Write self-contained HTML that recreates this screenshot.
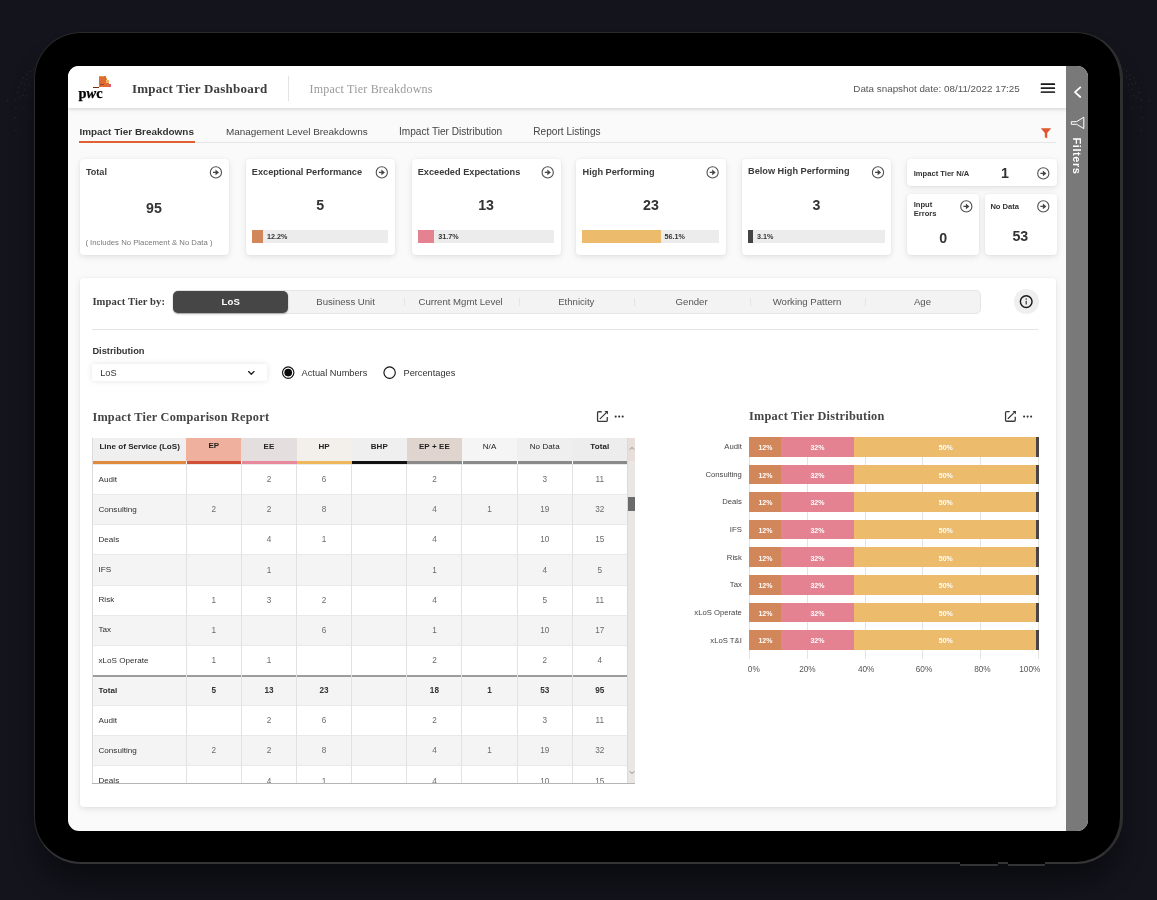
<!DOCTYPE html>
<html lang="en"><head><meta charset="utf-8"><title>Impact Tier Dashboard</title>
<style>
*{box-sizing:border-box;margin:0;padding:0}
html,body{width:1157px;height:900px;overflow:hidden}
body{position:relative;background:#13141c;font-family:"Liberation Sans",Arial,sans-serif;color:#333}
div,svg{position:absolute}
.t{white-space:nowrap}
.card{background:#fff;border-radius:4px;box-shadow:0 2px 6px rgba(0,0,0,.10),0 0 2px rgba(0,0,0,.05)}
.ic{overflow:visible}
</style></head><body>

<svg style="left:0;top:0" width="1157" height="200" viewBox="0 0 1157 200" fill="#fff" fill-opacity=".1"><rect x="32.8" y="68.7" width="1.2" height="1"/><rect x="1123.0" y="68.7" width="1.2" height="1"/><rect x="29.8" y="70.8" width="1.2" height="1"/><rect x="1126.0" y="70.8" width="1.2" height="1"/><rect x="26.3" y="74.4" width="1.2" height="1"/><rect x="1129.5" y="74.4" width="1.2" height="1"/><rect x="30.0" y="76.4" width="1.2" height="1"/><rect x="1125.8" y="76.4" width="1.2" height="1"/><rect x="22.6" y="77.2" width="1.2" height="1"/><rect x="1133.2" y="77.2" width="1.2" height="1"/><rect x="26.3" y="79.1" width="1.2" height="1"/><rect x="1129.5" y="79.1" width="1.2" height="1"/><rect x="20.8" y="82.6" width="1.2" height="1"/><rect x="1135.0" y="82.6" width="1.2" height="1"/><rect x="24.4" y="83.6" width="1.2" height="1"/><rect x="1131.4" y="83.6" width="1.2" height="1"/><rect x="28.1" y="84.4" width="1.2" height="1"/><rect x="1127.7" y="84.4" width="1.2" height="1"/><rect x="17.8" y="87.4" width="1.2" height="1"/><rect x="1138.0" y="87.4" width="1.2" height="1"/><rect x="24.4" y="89.2" width="1.2" height="1"/><rect x="1131.4" y="89.2" width="1.2" height="1"/><rect x="17.0" y="92.0" width="1.2" height="1"/><rect x="1138.8" y="92.0" width="1.2" height="1"/><rect x="22.6" y="94.8" width="1.2" height="1"/><rect x="1133.2" y="94.8" width="1.2" height="1"/><rect x="25.3" y="95.6" width="1.2" height="1"/><rect x="1130.5" y="95.6" width="1.2" height="1"/><rect x="18.9" y="97.4" width="1.2" height="1"/><rect x="1136.9" y="97.4" width="1.2" height="1"/><rect x="15.2" y="99.4" width="1.2" height="1"/><rect x="1140.6" y="99.4" width="1.2" height="1"/><rect x="6.9" y="100.3" width="1.2" height="1"/><rect x="1148.9" y="100.3" width="1.2" height="1"/><rect x="15.2" y="106.7" width="1.2" height="1"/><rect x="1140.6" y="106.7" width="1.2" height="1"/><rect x="23.3" y="107.8" width="1.2" height="1"/><rect x="1132.5" y="107.8" width="1.2" height="1"/><rect x="14.4" y="117.0" width="1.2" height="1"/><rect x="1141.4" y="117.0" width="1.2" height="1"/><rect x="15.2" y="129.8" width="1.2" height="1"/><rect x="1140.6" y="129.8" width="1.2" height="1"/></svg>
<div style="left:34.00px;top:32.00px;width:1089.00px;height:832.00px;background:#000;border-style:solid;border-width:1px 3px 2px 1px;border-color:#2a2a2c #2e2e30 #343436 #29292b;border-radius:47px;box-shadow:0 22px 28px -6px rgba(0,0,0,.45);"></div>
<div style="left:960.00px;top:860.00px;width:37.80px;height:5.50px;background:#000;border-bottom:2px solid #343436;border-radius:0 0 1px 1px;"></div>
<div style="left:1007.80px;top:860.00px;width:37.70px;height:5.50px;background:#000;border-bottom:2px solid #343436;border-radius:0 0 1px 1px;"></div>
<div style="left:68px;top:66px;width:1020px;height:765.3px;background:#fafafa;border-radius:11px;overflow:hidden">
<div style="left:0.00px;top:0.00px;width:998.50px;height:42.00px;background:#fff;box-shadow:0 1px 4px rgba(0,0,0,.18);"></div>
<div style="left:998.40px;top:0.00px;width:22.00px;height:766.00px;background:#797979;"></div>
<div class="t" style="top:17.00px;font-size:14.4px;line-height:20.2px;color:#000;font-weight:700;font-family:'Liberation Serif',Georgia,serif;letter-spacing:0.1px;left:10.50px;-webkit-text-stroke:.25px #000;">p<i>w</i>c</div>
<div style="left:31.00px;top:10.10px;width:6.60px;height:10.60px;background:#de6a35;"></div>
<div style="left:31.40px;top:10.10px;width:4.60px;height:1.40px;background:#ec9440;"></div>
<div style="left:37.60px;top:12.40px;width:1.00px;height:5.00px;background:#e88a3c;"></div>
<div style="left:37.60px;top:17.20px;width:3.40px;height:3.50px;background:#de6a35;"></div>
<div style="left:38.30px;top:13.60px;width:2.70px;height:3.60px;background:#f2b75c;"></div>
<div style="left:40.90px;top:17.90px;width:2.10px;height:2.80px;background:#e0557a;"></div>
<div style="left:25.10px;top:21.00px;width:6.00px;height:1.30px;background:#7a2a12;"></div>
<div style="left:32.00px;top:17.60px;width:3.80px;height:1.80px;background:#9a3c18;opacity:.8"></div>
<div class="t" style="top:14.40px;font-size:13px;line-height:18.2px;color:#3d3d3d;font-weight:700;font-family:'Liberation Serif',Georgia,serif;letter-spacing:0.22px;left:64.00px;">Impact Tier Dashboard</div>
<div style="left:220.40px;top:10.00px;width:1.00px;height:25.00px;background:#e3e3e3;"></div>
<div class="t" style="top:15.10px;font-size:12px;line-height:16.8px;color:#9a9a9a;font-family:'Liberation Serif',Georgia,serif;letter-spacing:0.2px;left:241.60px;">Impact Tier Breakdowns</div>
<div class="t" style="top:15.70px;font-size:9.84px;line-height:13.8px;color:#555;left:785.30px;">Data snapshot date: 08/11/2022 17:25</div>
<div class="t" style="left:1008.7px;top:89.80000000000001px;width:0;height:0"><div class="t" style="left:-30px;top:-8px;width:60px;height:16px;line-height:16px;text-align:center;transform:rotate(90deg);font-size:11px;font-weight:700;color:#fff;letter-spacing:.55px">Filters</div></div>
<div style="left:11.50px;top:76.00px;width:976.50px;height:1.00px;background:#e6e6e6;"></div>
<div class="t" style="top:59.45px;font-size:9.93px;line-height:13.9px;color:#333;font-weight:700;left:11.40px;">Impact Tier Breakdowns</div>
<div style="left:11.40px;top:75.00px;width:115.20px;height:2.00px;background:#e0602f;"></div>
<div class="t" style="top:59.45px;font-size:9.94px;line-height:13.9px;color:#444;left:158.00px;">Management Level Breakdowns</div>
<div class="t" style="top:59.35px;font-size:10.1px;line-height:14.1px;color:#444;left:331.00px;">Impact Tier Distribution</div>
<div class="t" style="top:59.35px;font-size:10.1px;line-height:14.1px;color:#444;left:465.30px;">Report Listings</div>
<div class="card" style="left:11.70px;top:93.40px;width:149.30px;height:95.20px;"></div>
<div class="t" style="top:100.35px;font-size:9.1px;line-height:12.7px;color:#3a3a3a;font-weight:700;left:17.90px;">Total</div>

<div class="t" style="top:133.15px;font-size:14.2px;line-height:19.9px;color:#333;font-weight:700;left:55.90px;width:60px;text-align:center;">95</div>
<div class="t" style="top:172.30px;font-size:7.75px;line-height:10.8px;color:#7a7a7a;left:17.40px;">( Includes No Placement &amp; No Data )</div>
<div class="card" style="left:177.60px;top:93.40px;width:149.30px;height:95.20px;"></div>
<div class="t" style="top:100.25px;font-size:9.2px;line-height:12.9px;color:#3a3a3a;font-weight:700;left:183.80px;">Exceptional Performance</div>

<div class="t" style="top:130.05px;font-size:14.2px;line-height:19.9px;color:#333;font-weight:700;left:222.20px;width:60px;text-align:center;">5</div>
<div style="left:183.60px;top:164.00px;width:136.80px;height:12.50px;background:#ececec;"></div>
<div style="left:183.60px;top:164.00px;width:11.70px;height:12.50px;background:#d2875a;"></div>
<div class="t" style="top:166.25px;font-size:7.2px;line-height:10.1px;color:#333;font-weight:700;left:199.10px;">12.2%</div>
<div class="card" style="left:343.50px;top:93.40px;width:149.30px;height:95.20px;"></div>
<div class="t" style="top:100.25px;font-size:9.2px;line-height:12.9px;color:#3a3a3a;font-weight:700;left:349.70px;">Exceeded Expectations</div>

<div class="t" style="top:130.05px;font-size:14.2px;line-height:19.9px;color:#333;font-weight:700;left:388.10px;width:60px;text-align:center;">13</div>
<div style="left:349.50px;top:164.00px;width:136.80px;height:12.50px;background:#ececec;"></div>
<div style="left:349.50px;top:164.00px;width:16.90px;height:12.50px;background:#e48291;"></div>
<div class="t" style="top:166.25px;font-size:7.2px;line-height:10.1px;color:#333;font-weight:700;left:370.20px;">31.7%</div>
<div class="card" style="left:508.40px;top:93.40px;width:149.30px;height:95.20px;"></div>
<div class="t" style="top:100.25px;font-size:9.2px;line-height:12.9px;color:#3a3a3a;font-weight:700;left:514.60px;">High Performing</div>

<div class="t" style="top:130.05px;font-size:14.2px;line-height:19.9px;color:#333;font-weight:700;left:553.00px;width:60px;text-align:center;">23</div>
<div style="left:514.40px;top:164.00px;width:136.80px;height:12.50px;background:#ececec;"></div>
<div style="left:514.40px;top:164.00px;width:78.30px;height:12.50px;background:#ecbb6c;"></div>
<div class="t" style="top:166.25px;font-size:7.2px;line-height:10.1px;color:#333;font-weight:700;left:596.50px;">56.1%</div>
<div class="card" style="left:673.80px;top:93.40px;width:149.30px;height:95.20px;"></div>
<div class="t" style="top:98.95px;font-size:9.2px;line-height:12.9px;color:#3a3a3a;font-weight:700;left:680.00px;">Below High Performing</div>

<div class="t" style="top:130.05px;font-size:14.2px;line-height:19.9px;color:#333;font-weight:700;left:718.40px;width:60px;text-align:center;">3</div>
<div style="left:679.80px;top:164.00px;width:136.80px;height:12.50px;background:#ececec;"></div>
<div style="left:679.80px;top:164.00px;width:5.30px;height:12.50px;background:#444;"></div>
<div class="t" style="top:166.25px;font-size:7.2px;line-height:10.1px;color:#333;font-weight:700;left:688.90px;">3.1%</div>
<div class="card" style="left:839.20px;top:93.40px;width:149.60px;height:26.20px;"></div>
<div class="t" style="top:102.80px;font-size:7.6px;line-height:10.6px;color:#333;font-weight:700;left:845.70px;">Impact Tier N/A</div>
<div class="t" style="top:98.25px;font-size:14.2px;line-height:19.9px;color:#333;font-weight:700;left:917.00px;width:40px;text-align:center;">1</div>

<div class="card" style="left:839.20px;top:127.50px;width:72.00px;height:61.10px;"></div>
<div class="t" style="top:133.60px;font-size:7.6px;line-height:10.6px;color:#333;font-weight:700;left:845.70px;">Input</div>
<div class="t" style="top:142.50px;font-size:7.6px;line-height:10.6px;color:#333;font-weight:700;left:845.70px;">Errors</div>

<div class="t" style="top:162.85px;font-size:14.2px;line-height:19.9px;color:#333;font-weight:700;left:855.30px;width:40px;text-align:center;">0</div>
<div class="card" style="left:916.50px;top:127.50px;width:72.30px;height:61.10px;"></div>
<div class="t" style="top:135.70px;font-size:7.6px;line-height:10.6px;color:#333;font-weight:700;left:922.40px;">No Data</div>

<div class="t" style="top:161.45px;font-size:14.2px;line-height:19.9px;color:#333;font-weight:700;left:932.30px;width:40px;text-align:center;">53</div>
<div class="card" style="left:11.70px;top:212.00px;width:976.50px;height:528.70px;"></div>
<div class="t" style="top:228.80px;font-size:10.6px;line-height:14.8px;color:#3d3d3d;font-weight:700;font-family:'Liberation Serif',Georgia,serif;letter-spacing:0.1px;left:24.40px;">Impact Tier by:</div>
<div style="left:105.30px;top:223.70px;width:807.40px;height:24.00px;background:#f3f3f3;border:1px solid #e6e6e6;border-radius:5px;"></div>
<div style="left:105.30px;top:225.00px;width:115.00px;height:21.60px;background:#464646;border-radius:5px;box-shadow:0 1px 2px rgba(0,0,0,.3);"></div>
<div class="t" style="top:229.30px;font-size:9.6px;line-height:13.4px;color:#fff;font-weight:700;letter-spacing:0.2px;left:112.80px;width:100px;text-align:center;">LoS</div>
<div class="t" style="top:229.10px;font-size:9.6px;line-height:13.4px;color:#555;left:217.60px;width:120px;text-align:center;">Business Unit</div>
<div class="t" style="top:229.10px;font-size:9.6px;line-height:13.4px;color:#555;left:332.60px;width:120px;text-align:center;">Current Mgmt Level</div>
<div class="t" style="top:229.10px;font-size:9.6px;line-height:13.4px;color:#555;left:448.30px;width:120px;text-align:center;">Ethnicity</div>
<div class="t" style="top:229.10px;font-size:9.6px;line-height:13.4px;color:#555;left:563.60px;width:120px;text-align:center;">Gender</div>
<div class="t" style="top:229.10px;font-size:9.6px;line-height:13.4px;color:#555;left:679.00px;width:120px;text-align:center;">Working Pattern</div>
<div class="t" style="top:229.10px;font-size:9.6px;line-height:13.4px;color:#555;left:794.50px;width:120px;text-align:center;">Age</div>
<div style="left:335.50px;top:232.00px;width:1.00px;height:8.00px;background:#e4e4e4;"></div>
<div style="left:450.60px;top:232.00px;width:1.00px;height:8.00px;background:#e4e4e4;"></div>
<div style="left:566.20px;top:232.00px;width:1.00px;height:8.00px;background:#e4e4e4;"></div>
<div style="left:681.60px;top:232.00px;width:1.00px;height:8.00px;background:#e4e4e4;"></div>
<div style="left:797.20px;top:232.00px;width:1.00px;height:8.00px;background:#e4e4e4;"></div>
<div style="left:946.00px;top:223.30px;width:24.50px;height:24.50px;background:#efefef;border-radius:50%;"></div>
<div style="left:24.40px;top:263.00px;width:946.10px;height:1.00px;background:#e4e4e4;"></div>
<div class="t" style="top:279.10px;font-size:9.3px;line-height:13.0px;color:#333;font-weight:700;left:24.40px;">Distribution</div>
<div style="left:24.40px;top:298.00px;width:174.20px;height:17.00px;background:#fff;border-radius:2px;box-shadow:0 0 6px rgba(0,0,0,.11);"></div>
<div class="t" style="top:301.05px;font-size:9.2px;line-height:12.9px;color:#333;left:32.20px;">LoS</div>
<div class="t" style="top:300.55px;font-size:9.24px;line-height:12.9px;color:#333;left:233.60px;">Actual Numbers</div>
<div class="t" style="top:300.55px;font-size:9.24px;line-height:12.9px;color:#333;left:335.50px;">Percentages</div>
<div class="t" style="top:342.90px;font-size:12.3px;line-height:17.2px;color:#454545;font-weight:700;font-family:'Liberation Serif',Georgia,serif;letter-spacing:0.22px;left:24.40px;">Impact Tier Comparison Report</div>


<div style="left:24.200000000000003px;top:371.8px;width:543px;height:346.4px;overflow:hidden;background:#fff;border-bottom:1px solid #b5b5b5">
<div style="left:0.80px;top:0.00px;width:93.30px;height:23.60px;background:#efefef;"></div>
<div style="left:0.80px;top:23.50px;width:93.30px;height:2.40px;background:#df8a3c;"></div>
<div class="t" style="top:3.35px;font-size:8.1px;line-height:11.3px;color:#222;font-weight:700;left:-4.20px;width:103.3px;text-align:center;">Line of Service (LoS)</div>
<div style="left:94.10px;top:0.00px;width:55.14px;height:23.60px;background:#efb19d;"></div>
<div style="left:94.70px;top:23.50px;width:54.54px;height:2.40px;background:#cf5034;"></div>
<div class="t" style="top:2.60px;font-size:8px;line-height:11.2px;color:#222;font-weight:700;letter-spacing:0.1px;left:89.10px;width:65.14000000000001px;text-align:center;">EP</div>
<div style="left:149.24px;top:0.00px;width:55.14px;height:23.60px;background:#e4dfde;"></div>
<div style="left:149.84px;top:23.50px;width:54.54px;height:2.40px;background:#e8899b;"></div>
<div class="t" style="top:3.40px;font-size:8px;line-height:11.2px;color:#222;font-weight:700;letter-spacing:0.1px;left:144.24px;width:65.13999999999999px;text-align:center;">EE</div>
<div style="left:204.38px;top:0.00px;width:55.14px;height:23.60px;background:#f3efeb;"></div>
<div style="left:204.98px;top:23.50px;width:54.54px;height:2.40px;background:#efb85c;"></div>
<div class="t" style="top:3.40px;font-size:8px;line-height:11.2px;color:#222;font-weight:700;letter-spacing:0.1px;left:199.38px;width:65.13999999999999px;text-align:center;">HP</div>
<div style="left:259.52px;top:0.00px;width:55.14px;height:23.60px;background:#efefef;"></div>
<div style="left:260.12px;top:23.50px;width:54.54px;height:2.40px;background:#111;"></div>
<div class="t" style="top:3.40px;font-size:8px;line-height:11.2px;color:#222;font-weight:700;letter-spacing:0.1px;left:254.52px;width:65.13999999999999px;text-align:center;">BHP</div>
<div style="left:314.66px;top:0.00px;width:55.14px;height:23.60px;background:#dfd5ce;"></div>
<div style="left:315.26px;top:23.50px;width:54.54px;height:2.40px;background:#8a8a8a;"></div>
<div class="t" style="top:3.40px;font-size:8px;line-height:11.2px;color:#222;font-weight:700;letter-spacing:0.1px;left:309.66px;width:65.13999999999999px;text-align:center;">EP + EE</div>
<div style="left:369.80px;top:0.00px;width:55.14px;height:23.60px;background:#f5f5f5;"></div>
<div style="left:370.40px;top:23.50px;width:54.54px;height:2.40px;background:#8a8a8a;"></div>
<div class="t" style="top:3.40px;font-size:8px;line-height:11.2px;color:#222;letter-spacing:0.1px;left:364.80px;width:65.1400000000001px;text-align:center;">N/A</div>
<div style="left:424.94px;top:0.00px;width:55.14px;height:23.60px;background:#efefef;"></div>
<div style="left:425.54px;top:23.50px;width:54.54px;height:2.40px;background:#8a8a8a;"></div>
<div class="t" style="top:3.40px;font-size:8px;line-height:11.2px;color:#222;letter-spacing:0.1px;left:419.94px;width:65.13999999999999px;text-align:center;">No Data</div>
<div style="left:480.08px;top:0.00px;width:55.14px;height:23.60px;background:#ededed;"></div>
<div style="left:480.68px;top:23.50px;width:54.54px;height:2.40px;background:#8a8a8a;"></div>
<div class="t" style="top:3.40px;font-size:8px;line-height:11.2px;color:#222;font-weight:700;letter-spacing:0.1px;left:475.08px;width:65.13999999999999px;text-align:center;">Total</div>
<div style="left:0.80px;top:26.20px;width:534.30px;height:30.13px;background:#fff;border-top:1px solid #e9e9e9;"></div>
<div class="t" style="top:36.02px;font-size:8.1px;line-height:11.3px;color:#2e2e2e;left:6.30px;">Audit</div>
<div class="t" style="top:36.41px;font-size:8.2px;line-height:11.5px;color:#6a6a6a;left:156.81px;width:40px;text-align:center;">2</div>
<div class="t" style="top:36.41px;font-size:8.2px;line-height:11.5px;color:#6a6a6a;left:211.95px;width:40px;text-align:center;">6</div>
<div class="t" style="top:36.41px;font-size:8.2px;line-height:11.5px;color:#6a6a6a;left:322.23px;width:40px;text-align:center;">2</div>
<div class="t" style="top:36.41px;font-size:8.2px;line-height:11.5px;color:#6a6a6a;left:432.51px;width:40px;text-align:center;">3</div>
<div class="t" style="top:36.41px;font-size:8.2px;line-height:11.5px;color:#6a6a6a;left:487.65px;width:40px;text-align:center;">11</div>
<div style="left:0.80px;top:56.33px;width:534.30px;height:30.13px;background:#f4f4f4;border-top:1px solid #e9e9e9;"></div>
<div class="t" style="top:66.14px;font-size:8.1px;line-height:11.3px;color:#2e2e2e;left:6.30px;">Consulting</div>
<div class="t" style="top:66.54px;font-size:8.2px;line-height:11.5px;color:#6a6a6a;left:101.67px;width:40px;text-align:center;">2</div>
<div class="t" style="top:66.54px;font-size:8.2px;line-height:11.5px;color:#6a6a6a;left:156.81px;width:40px;text-align:center;">2</div>
<div class="t" style="top:66.54px;font-size:8.2px;line-height:11.5px;color:#6a6a6a;left:211.95px;width:40px;text-align:center;">8</div>
<div class="t" style="top:66.54px;font-size:8.2px;line-height:11.5px;color:#6a6a6a;left:322.23px;width:40px;text-align:center;">4</div>
<div class="t" style="top:66.54px;font-size:8.2px;line-height:11.5px;color:#6a6a6a;left:377.37px;width:40px;text-align:center;">1</div>
<div class="t" style="top:66.54px;font-size:8.2px;line-height:11.5px;color:#6a6a6a;left:432.51px;width:40px;text-align:center;">19</div>
<div class="t" style="top:66.54px;font-size:8.2px;line-height:11.5px;color:#6a6a6a;left:487.65px;width:40px;text-align:center;">32</div>
<div style="left:0.80px;top:86.46px;width:534.30px;height:30.13px;background:#fff;border-top:1px solid #e9e9e9;"></div>
<div class="t" style="top:96.27px;font-size:8.1px;line-height:11.3px;color:#2e2e2e;left:6.30px;">Deals</div>
<div class="t" style="top:96.67px;font-size:8.2px;line-height:11.5px;color:#6a6a6a;left:156.81px;width:40px;text-align:center;">4</div>
<div class="t" style="top:96.67px;font-size:8.2px;line-height:11.5px;color:#6a6a6a;left:211.95px;width:40px;text-align:center;">1</div>
<div class="t" style="top:96.67px;font-size:8.2px;line-height:11.5px;color:#6a6a6a;left:322.23px;width:40px;text-align:center;">4</div>
<div class="t" style="top:96.67px;font-size:8.2px;line-height:11.5px;color:#6a6a6a;left:432.51px;width:40px;text-align:center;">10</div>
<div class="t" style="top:96.67px;font-size:8.2px;line-height:11.5px;color:#6a6a6a;left:487.65px;width:40px;text-align:center;">15</div>
<div style="left:0.80px;top:116.59px;width:534.30px;height:30.13px;background:#f4f4f4;border-top:1px solid #e9e9e9;"></div>
<div class="t" style="top:126.40px;font-size:8.1px;line-height:11.3px;color:#2e2e2e;left:6.30px;">IFS</div>
<div class="t" style="top:126.80px;font-size:8.2px;line-height:11.5px;color:#6a6a6a;left:156.81px;width:40px;text-align:center;">1</div>
<div class="t" style="top:126.80px;font-size:8.2px;line-height:11.5px;color:#6a6a6a;left:322.23px;width:40px;text-align:center;">1</div>
<div class="t" style="top:126.80px;font-size:8.2px;line-height:11.5px;color:#6a6a6a;left:432.51px;width:40px;text-align:center;">4</div>
<div class="t" style="top:126.80px;font-size:8.2px;line-height:11.5px;color:#6a6a6a;left:487.65px;width:40px;text-align:center;">5</div>
<div style="left:0.80px;top:146.72px;width:534.30px;height:30.13px;background:#fff;border-top:1px solid #e9e9e9;"></div>
<div class="t" style="top:156.53px;font-size:8.1px;line-height:11.3px;color:#2e2e2e;left:6.30px;">Risk</div>
<div class="t" style="top:156.94px;font-size:8.2px;line-height:11.5px;color:#6a6a6a;left:101.67px;width:40px;text-align:center;">1</div>
<div class="t" style="top:156.94px;font-size:8.2px;line-height:11.5px;color:#6a6a6a;left:156.81px;width:40px;text-align:center;">3</div>
<div class="t" style="top:156.94px;font-size:8.2px;line-height:11.5px;color:#6a6a6a;left:211.95px;width:40px;text-align:center;">2</div>
<div class="t" style="top:156.94px;font-size:8.2px;line-height:11.5px;color:#6a6a6a;left:322.23px;width:40px;text-align:center;">4</div>
<div class="t" style="top:156.94px;font-size:8.2px;line-height:11.5px;color:#6a6a6a;left:432.51px;width:40px;text-align:center;">5</div>
<div class="t" style="top:156.94px;font-size:8.2px;line-height:11.5px;color:#6a6a6a;left:487.65px;width:40px;text-align:center;">11</div>
<div style="left:0.80px;top:176.85px;width:534.30px;height:30.13px;background:#f4f4f4;border-top:1px solid #e9e9e9;"></div>
<div class="t" style="top:186.66px;font-size:8.1px;line-height:11.3px;color:#2e2e2e;left:6.30px;">Tax</div>
<div class="t" style="top:187.06px;font-size:8.2px;line-height:11.5px;color:#6a6a6a;left:101.67px;width:40px;text-align:center;">1</div>
<div class="t" style="top:187.06px;font-size:8.2px;line-height:11.5px;color:#6a6a6a;left:211.95px;width:40px;text-align:center;">6</div>
<div class="t" style="top:187.06px;font-size:8.2px;line-height:11.5px;color:#6a6a6a;left:322.23px;width:40px;text-align:center;">1</div>
<div class="t" style="top:187.06px;font-size:8.2px;line-height:11.5px;color:#6a6a6a;left:432.51px;width:40px;text-align:center;">10</div>
<div class="t" style="top:187.06px;font-size:8.2px;line-height:11.5px;color:#6a6a6a;left:487.65px;width:40px;text-align:center;">17</div>
<div style="left:0.80px;top:206.98px;width:534.30px;height:30.13px;background:#fff;border-top:1px solid #e9e9e9;"></div>
<div class="t" style="top:216.79px;font-size:8.1px;line-height:11.3px;color:#2e2e2e;left:6.30px;">xLoS Operate</div>
<div class="t" style="top:217.19px;font-size:8.2px;line-height:11.5px;color:#6a6a6a;left:101.67px;width:40px;text-align:center;">1</div>
<div class="t" style="top:217.19px;font-size:8.2px;line-height:11.5px;color:#6a6a6a;left:156.81px;width:40px;text-align:center;">1</div>
<div class="t" style="top:217.19px;font-size:8.2px;line-height:11.5px;color:#6a6a6a;left:322.23px;width:40px;text-align:center;">2</div>
<div class="t" style="top:217.19px;font-size:8.2px;line-height:11.5px;color:#6a6a6a;left:432.51px;width:40px;text-align:center;">2</div>
<div class="t" style="top:217.19px;font-size:8.2px;line-height:11.5px;color:#6a6a6a;left:487.65px;width:40px;text-align:center;">4</div>
<div style="left:0.80px;top:237.11px;width:534.30px;height:30.13px;background:#f4f4f4;border-top:2px solid #9c9c9c;"></div>
<div class="t" style="top:246.92px;font-size:8.1px;line-height:11.3px;color:#2e2e2e;font-weight:700;left:6.30px;">Total</div>
<div class="t" style="top:247.32px;font-size:8.2px;line-height:11.5px;color:#333;font-weight:700;left:101.67px;width:40px;text-align:center;">5</div>
<div class="t" style="top:247.32px;font-size:8.2px;line-height:11.5px;color:#333;font-weight:700;left:156.81px;width:40px;text-align:center;">13</div>
<div class="t" style="top:247.32px;font-size:8.2px;line-height:11.5px;color:#333;font-weight:700;left:211.95px;width:40px;text-align:center;">23</div>
<div class="t" style="top:247.32px;font-size:8.2px;line-height:11.5px;color:#333;font-weight:700;left:322.23px;width:40px;text-align:center;">18</div>
<div class="t" style="top:247.32px;font-size:8.2px;line-height:11.5px;color:#333;font-weight:700;left:377.37px;width:40px;text-align:center;">1</div>
<div class="t" style="top:247.32px;font-size:8.2px;line-height:11.5px;color:#333;font-weight:700;left:432.51px;width:40px;text-align:center;">53</div>
<div class="t" style="top:247.32px;font-size:8.2px;line-height:11.5px;color:#333;font-weight:700;left:487.65px;width:40px;text-align:center;">95</div>
<div style="left:0.80px;top:267.24px;width:534.30px;height:30.13px;background:#fff;border-top:1px solid #e9e9e9;"></div>
<div class="t" style="top:277.06px;font-size:8.1px;line-height:11.3px;color:#2e2e2e;left:6.30px;">Audit</div>
<div class="t" style="top:277.46px;font-size:8.2px;line-height:11.5px;color:#6a6a6a;left:156.81px;width:40px;text-align:center;">2</div>
<div class="t" style="top:277.46px;font-size:8.2px;line-height:11.5px;color:#6a6a6a;left:211.95px;width:40px;text-align:center;">6</div>
<div class="t" style="top:277.46px;font-size:8.2px;line-height:11.5px;color:#6a6a6a;left:322.23px;width:40px;text-align:center;">2</div>
<div class="t" style="top:277.46px;font-size:8.2px;line-height:11.5px;color:#6a6a6a;left:432.51px;width:40px;text-align:center;">3</div>
<div class="t" style="top:277.46px;font-size:8.2px;line-height:11.5px;color:#6a6a6a;left:487.65px;width:40px;text-align:center;">11</div>
<div style="left:0.80px;top:297.37px;width:534.30px;height:30.13px;background:#f4f4f4;border-top:1px solid #e9e9e9;"></div>
<div class="t" style="top:307.19px;font-size:8.1px;line-height:11.3px;color:#2e2e2e;left:6.30px;">Consulting</div>
<div class="t" style="top:307.59px;font-size:8.2px;line-height:11.5px;color:#6a6a6a;left:101.67px;width:40px;text-align:center;">2</div>
<div class="t" style="top:307.59px;font-size:8.2px;line-height:11.5px;color:#6a6a6a;left:156.81px;width:40px;text-align:center;">2</div>
<div class="t" style="top:307.59px;font-size:8.2px;line-height:11.5px;color:#6a6a6a;left:211.95px;width:40px;text-align:center;">8</div>
<div class="t" style="top:307.59px;font-size:8.2px;line-height:11.5px;color:#6a6a6a;left:322.23px;width:40px;text-align:center;">4</div>
<div class="t" style="top:307.59px;font-size:8.2px;line-height:11.5px;color:#6a6a6a;left:377.37px;width:40px;text-align:center;">1</div>
<div class="t" style="top:307.59px;font-size:8.2px;line-height:11.5px;color:#6a6a6a;left:432.51px;width:40px;text-align:center;">19</div>
<div class="t" style="top:307.59px;font-size:8.2px;line-height:11.5px;color:#6a6a6a;left:487.65px;width:40px;text-align:center;">32</div>
<div style="left:0.80px;top:327.50px;width:534.30px;height:30.13px;background:#fff;border-top:1px solid #e9e9e9;"></div>
<div class="t" style="top:337.32px;font-size:8.1px;line-height:11.3px;color:#2e2e2e;left:6.30px;">Deals</div>
<div class="t" style="top:337.72px;font-size:8.2px;line-height:11.5px;color:#6a6a6a;left:156.81px;width:40px;text-align:center;">4</div>
<div class="t" style="top:337.72px;font-size:8.2px;line-height:11.5px;color:#6a6a6a;left:211.95px;width:40px;text-align:center;">1</div>
<div class="t" style="top:337.72px;font-size:8.2px;line-height:11.5px;color:#6a6a6a;left:322.23px;width:40px;text-align:center;">4</div>
<div class="t" style="top:337.72px;font-size:8.2px;line-height:11.5px;color:#6a6a6a;left:432.51px;width:40px;text-align:center;">10</div>
<div class="t" style="top:337.72px;font-size:8.2px;line-height:11.5px;color:#6a6a6a;left:487.65px;width:40px;text-align:center;">15</div>
<div style="left:93.60px;top:26.20px;width:1.00px;height:330.00px;background:#e4e2e0;"></div>
<div style="left:148.74px;top:26.20px;width:1.00px;height:330.00px;background:#e4e2e0;"></div>
<div style="left:203.88px;top:26.20px;width:1.00px;height:330.00px;background:#e4e2e0;"></div>
<div style="left:259.02px;top:26.20px;width:1.00px;height:330.00px;background:#e4e2e0;"></div>
<div style="left:314.16px;top:26.20px;width:1.00px;height:330.00px;background:#e4e2e0;"></div>
<div style="left:369.30px;top:26.20px;width:1.00px;height:330.00px;background:#e4e2e0;"></div>
<div style="left:424.44px;top:26.20px;width:1.00px;height:330.00px;background:#e4e2e0;"></div>
<div style="left:479.58px;top:26.20px;width:1.00px;height:330.00px;background:#e4e2e0;"></div>
<div style="left:0.00px;top:0.00px;width:1.00px;height:347.00px;background:#dcdcdc;"></div>
<div style="left:535.10px;top:0.00px;width:7.90px;height:347.00px;background:#e9e6e4;border-left:1px solid #dcd9d7;"></div>
<div style="left:536.10px;top:0.00px;width:6.90px;height:23.50px;background:#e8dfda;"></div>
<div style="left:536.20px;top:58.80px;width:6.80px;height:14.30px;background:#6b6b6b;"></div>
<svg class="ic" style="left:536.4px;top:8px" width="6" height="5" viewBox="0 0 6 5"><path d="M0.8 3.6L3 1.4L5.2 3.6" fill="none" stroke="#8a8a8a" stroke-width="1"/></svg>
<svg class="ic" style="left:536.4px;top:332px" width="6" height="5" viewBox="0 0 6 5"><path d="M0.8 1.4L3 3.6L5.2 1.4" fill="none" stroke="#8a8a8a" stroke-width="1"/></svg>
</div>
<div class="t" style="top:342.40px;font-size:12.3px;line-height:17.2px;color:#454545;font-weight:700;font-family:'Liberation Serif',Georgia,serif;letter-spacing:0.24px;left:681.00px;">Impact Tier Distribution</div>


<div style="left:680.80px;top:371.00px;width:1.00px;height:221.50px;background:#e3e3e3;"></div>
<div style="left:738.66px;top:371.00px;width:1.00px;height:221.50px;background:#e3e3e3;"></div>
<div style="left:796.52px;top:371.00px;width:1.00px;height:221.50px;background:#e3e3e3;"></div>
<div style="left:854.38px;top:371.00px;width:1.00px;height:221.50px;background:#e3e3e3;"></div>
<div style="left:912.24px;top:371.00px;width:1.00px;height:221.50px;background:#e3e3e3;"></div>
<div style="left:970.10px;top:371.00px;width:1.00px;height:221.50px;background:#e3e3e3;"></div>
<div style="left:681.30px;top:371.00px;width:31.90px;height:19.60px;background:#d2875a;"></div>
<div style="left:713.20px;top:371.00px;width:73.20px;height:19.60px;background:#e48291;"></div>
<div style="left:786.40px;top:371.00px;width:184.00px;height:19.60px;background:#ecbb6c;"></div>
<div style="left:967.60px;top:371.00px;width:3.00px;height:19.60px;background:#4a4444;"></div>
<div class="t" style="top:376.20px;font-size:7.7px;line-height:10.8px;color:#444;left:573.80px;width:100px;text-align:right;">Audit</div>
<div class="t" style="top:377.10px;font-size:7px;line-height:9.8px;color:#fff;font-weight:700;left:682.40px;width:30px;text-align:center;">12%</div>
<div class="t" style="top:377.10px;font-size:7px;line-height:9.8px;color:#fff;font-weight:700;left:734.40px;width:30px;text-align:center;">32%</div>
<div class="t" style="top:377.10px;font-size:7px;line-height:9.8px;color:#fff;font-weight:700;left:862.80px;width:30px;text-align:center;">50%</div>
<div style="left:681.30px;top:398.62px;width:31.90px;height:19.60px;background:#d2875a;"></div>
<div style="left:713.20px;top:398.62px;width:73.20px;height:19.60px;background:#e48291;"></div>
<div style="left:786.40px;top:398.62px;width:184.00px;height:19.60px;background:#ecbb6c;"></div>
<div style="left:967.60px;top:398.62px;width:3.00px;height:19.60px;background:#4a4444;"></div>
<div class="t" style="top:403.82px;font-size:7.7px;line-height:10.8px;color:#444;left:573.80px;width:100px;text-align:right;">Consulting</div>
<div class="t" style="top:404.72px;font-size:7px;line-height:9.8px;color:#fff;font-weight:700;left:682.40px;width:30px;text-align:center;">12%</div>
<div class="t" style="top:404.72px;font-size:7px;line-height:9.8px;color:#fff;font-weight:700;left:734.40px;width:30px;text-align:center;">32%</div>
<div class="t" style="top:404.72px;font-size:7px;line-height:9.8px;color:#fff;font-weight:700;left:862.80px;width:30px;text-align:center;">50%</div>
<div style="left:681.30px;top:426.24px;width:31.90px;height:19.60px;background:#d2875a;"></div>
<div style="left:713.20px;top:426.24px;width:73.20px;height:19.60px;background:#e48291;"></div>
<div style="left:786.40px;top:426.24px;width:184.00px;height:19.60px;background:#ecbb6c;"></div>
<div style="left:967.60px;top:426.24px;width:3.00px;height:19.60px;background:#4a4444;"></div>
<div class="t" style="top:431.44px;font-size:7.7px;line-height:10.8px;color:#444;left:573.80px;width:100px;text-align:right;">Deals</div>
<div class="t" style="top:432.34px;font-size:7px;line-height:9.8px;color:#fff;font-weight:700;left:682.40px;width:30px;text-align:center;">12%</div>
<div class="t" style="top:432.34px;font-size:7px;line-height:9.8px;color:#fff;font-weight:700;left:734.40px;width:30px;text-align:center;">32%</div>
<div class="t" style="top:432.34px;font-size:7px;line-height:9.8px;color:#fff;font-weight:700;left:862.80px;width:30px;text-align:center;">50%</div>
<div style="left:681.30px;top:453.86px;width:31.90px;height:19.60px;background:#d2875a;"></div>
<div style="left:713.20px;top:453.86px;width:73.20px;height:19.60px;background:#e48291;"></div>
<div style="left:786.40px;top:453.86px;width:184.00px;height:19.60px;background:#ecbb6c;"></div>
<div style="left:967.60px;top:453.86px;width:3.00px;height:19.60px;background:#4a4444;"></div>
<div class="t" style="top:459.06px;font-size:7.7px;line-height:10.8px;color:#444;left:573.80px;width:100px;text-align:right;">IFS</div>
<div class="t" style="top:459.96px;font-size:7px;line-height:9.8px;color:#fff;font-weight:700;left:682.40px;width:30px;text-align:center;">12%</div>
<div class="t" style="top:459.96px;font-size:7px;line-height:9.8px;color:#fff;font-weight:700;left:734.40px;width:30px;text-align:center;">32%</div>
<div class="t" style="top:459.96px;font-size:7px;line-height:9.8px;color:#fff;font-weight:700;left:862.80px;width:30px;text-align:center;">50%</div>
<div style="left:681.30px;top:481.48px;width:31.90px;height:19.60px;background:#d2875a;"></div>
<div style="left:713.20px;top:481.48px;width:73.20px;height:19.60px;background:#e48291;"></div>
<div style="left:786.40px;top:481.48px;width:184.00px;height:19.60px;background:#ecbb6c;"></div>
<div style="left:967.60px;top:481.48px;width:3.00px;height:19.60px;background:#4a4444;"></div>
<div class="t" style="top:486.68px;font-size:7.7px;line-height:10.8px;color:#444;left:573.80px;width:100px;text-align:right;">Risk</div>
<div class="t" style="top:487.58px;font-size:7px;line-height:9.8px;color:#fff;font-weight:700;left:682.40px;width:30px;text-align:center;">12%</div>
<div class="t" style="top:487.58px;font-size:7px;line-height:9.8px;color:#fff;font-weight:700;left:734.40px;width:30px;text-align:center;">32%</div>
<div class="t" style="top:487.58px;font-size:7px;line-height:9.8px;color:#fff;font-weight:700;left:862.80px;width:30px;text-align:center;">50%</div>
<div style="left:681.30px;top:509.10px;width:31.90px;height:19.60px;background:#d2875a;"></div>
<div style="left:713.20px;top:509.10px;width:73.20px;height:19.60px;background:#e48291;"></div>
<div style="left:786.40px;top:509.10px;width:184.00px;height:19.60px;background:#ecbb6c;"></div>
<div style="left:967.60px;top:509.10px;width:3.00px;height:19.60px;background:#4a4444;"></div>
<div class="t" style="top:514.30px;font-size:7.7px;line-height:10.8px;color:#444;left:573.80px;width:100px;text-align:right;">Tax</div>
<div class="t" style="top:515.20px;font-size:7px;line-height:9.8px;color:#fff;font-weight:700;left:682.40px;width:30px;text-align:center;">12%</div>
<div class="t" style="top:515.20px;font-size:7px;line-height:9.8px;color:#fff;font-weight:700;left:734.40px;width:30px;text-align:center;">32%</div>
<div class="t" style="top:515.20px;font-size:7px;line-height:9.8px;color:#fff;font-weight:700;left:862.80px;width:30px;text-align:center;">50%</div>
<div style="left:681.30px;top:536.72px;width:31.90px;height:19.60px;background:#d2875a;"></div>
<div style="left:713.20px;top:536.72px;width:73.20px;height:19.60px;background:#e48291;"></div>
<div style="left:786.40px;top:536.72px;width:184.00px;height:19.60px;background:#ecbb6c;"></div>
<div style="left:967.60px;top:536.72px;width:3.00px;height:19.60px;background:#4a4444;"></div>
<div class="t" style="top:541.92px;font-size:7.7px;line-height:10.8px;color:#444;left:573.80px;width:100px;text-align:right;">xLoS Operate</div>
<div class="t" style="top:542.82px;font-size:7px;line-height:9.8px;color:#fff;font-weight:700;left:682.40px;width:30px;text-align:center;">12%</div>
<div class="t" style="top:542.82px;font-size:7px;line-height:9.8px;color:#fff;font-weight:700;left:734.40px;width:30px;text-align:center;">32%</div>
<div class="t" style="top:542.82px;font-size:7px;line-height:9.8px;color:#fff;font-weight:700;left:862.80px;width:30px;text-align:center;">50%</div>
<div style="left:681.30px;top:564.34px;width:31.90px;height:19.60px;background:#d2875a;"></div>
<div style="left:713.20px;top:564.34px;width:73.20px;height:19.60px;background:#e48291;"></div>
<div style="left:786.40px;top:564.34px;width:184.00px;height:19.60px;background:#ecbb6c;"></div>
<div style="left:967.60px;top:564.34px;width:3.00px;height:19.60px;background:#4a4444;"></div>
<div class="t" style="top:569.54px;font-size:7.7px;line-height:10.8px;color:#444;left:573.80px;width:100px;text-align:right;">xLoS T&amp;I</div>
<div class="t" style="top:570.44px;font-size:7px;line-height:9.8px;color:#fff;font-weight:700;left:682.40px;width:30px;text-align:center;">12%</div>
<div class="t" style="top:570.44px;font-size:7px;line-height:9.8px;color:#fff;font-weight:700;left:734.40px;width:30px;text-align:center;">32%</div>
<div class="t" style="top:570.44px;font-size:7px;line-height:9.8px;color:#fff;font-weight:700;left:862.80px;width:30px;text-align:center;">50%</div>
<div class="t" style="top:597.95px;font-size:8.25px;line-height:11.5px;color:#555;left:665.80px;width:40px;text-align:center;">0%</div>
<div class="t" style="top:597.95px;font-size:8.25px;line-height:11.5px;color:#555;left:719.40px;width:40px;text-align:center;">20%</div>
<div class="t" style="top:597.95px;font-size:8.25px;line-height:11.5px;color:#555;left:778.20px;width:40px;text-align:center;">40%</div>
<div class="t" style="top:597.95px;font-size:8.25px;line-height:11.5px;color:#555;left:836.00px;width:40px;text-align:center;">60%</div>
<div class="t" style="top:597.95px;font-size:8.25px;line-height:11.5px;color:#555;left:894.40px;width:40px;text-align:center;">80%</div>
<div class="t" style="top:597.95px;font-size:8.25px;line-height:11.5px;color:#555;left:941.80px;width:40px;text-align:center;">100%</div>
<svg class="ic" style="left:0;top:0" width="1020" height="766" viewBox="0 0 1020 766"><g transform="translate(-68.00 -66.00)"><rect x="1040.7" y="83.35" width="14.4" height="1.75" rx=".6" fill="#161616"/><rect x="1040.7" y="87.3" width="14.4" height="1.75" rx=".6" fill="#222"/><rect x="1040.7" y="91.25" width="14.4" height="1.75" rx=".6" fill="#333"/></g><g transform="translate(-68.00 -66.00)"><path d="M1080.3 87.4L1075 92.2L1080.3 97" fill="none" stroke="#fff" stroke-width="1.8" stroke-linecap="round" stroke-linejoin="round"/><path d="M1083.8 117.2V128.6L1076.6 124.3H1071.3V121.7H1076.6Z" fill="none" stroke="#fff" stroke-width="1" stroke-linejoin="round"/></g><g transform="translate(972.60 62.00)"><path d="M0.2 0.2H10.6L6.6 4.9V10.3L4.2 9.2V4.9Z" fill="#e0562f"/></g><g transform="translate(147.90 106.40)"><circle cx="0" cy="0" r="5.60" fill="none" stroke="#505050" stroke-width="1.1"/><path d="M-2.9 0H0" fill="none" stroke="#444" stroke-width="1.15"/><path d="M-0.4 -2.8L3.1 0L-0.4 2.8Z" fill="#444"/></g><g transform="translate(313.80 106.40)"><circle cx="0" cy="0" r="5.60" fill="none" stroke="#505050" stroke-width="1.1"/><path d="M-2.9 0H0" fill="none" stroke="#444" stroke-width="1.15"/><path d="M-0.4 -2.8L3.1 0L-0.4 2.8Z" fill="#444"/></g><g transform="translate(479.70 106.40)"><circle cx="0" cy="0" r="5.60" fill="none" stroke="#505050" stroke-width="1.1"/><path d="M-2.9 0H0" fill="none" stroke="#444" stroke-width="1.15"/><path d="M-0.4 -2.8L3.1 0L-0.4 2.8Z" fill="#444"/></g><g transform="translate(644.60 106.40)"><circle cx="0" cy="0" r="5.60" fill="none" stroke="#505050" stroke-width="1.1"/><path d="M-2.9 0H0" fill="none" stroke="#444" stroke-width="1.15"/><path d="M-0.4 -2.8L3.1 0L-0.4 2.8Z" fill="#444"/></g><g transform="translate(810.00 106.40)"><circle cx="0" cy="0" r="5.60" fill="none" stroke="#505050" stroke-width="1.1"/><path d="M-2.9 0H0" fill="none" stroke="#444" stroke-width="1.15"/><path d="M-0.4 -2.8L3.1 0L-0.4 2.8Z" fill="#444"/></g><g transform="translate(975.30 107.40)"><circle cx="0" cy="0" r="5.60" fill="none" stroke="#505050" stroke-width="1.1"/><path d="M-2.9 0H0" fill="none" stroke="#444" stroke-width="1.15"/><path d="M-0.4 -2.8L3.1 0L-0.4 2.8Z" fill="#444"/></g><g transform="translate(898.30 140.40)"><circle cx="0" cy="0" r="5.60" fill="none" stroke="#505050" stroke-width="1.1"/><path d="M-2.9 0H0" fill="none" stroke="#444" stroke-width="1.15"/><path d="M-0.4 -2.8L3.1 0L-0.4 2.8Z" fill="#444"/></g><g transform="translate(975.30 140.40)"><circle cx="0" cy="0" r="5.60" fill="none" stroke="#505050" stroke-width="1.1"/><path d="M-2.9 0H0" fill="none" stroke="#444" stroke-width="1.15"/><path d="M-0.4 -2.8L3.1 0L-0.4 2.8Z" fill="#444"/></g><g transform="translate(958.20 235.60)"><circle r="5.85" fill="none" stroke="#1a1a1a" stroke-width="1.45"/><path d="M0 -0.9V3" stroke="#333" stroke-width="1.15" stroke-linecap="butt"/><circle cx="0" cy="-2.7" r=".75" fill="#333"/></g><g transform="translate(183.30 306.90)"><path d="M-2.7 -1.3L0 1.4L2.7 -1.3" fill="none" stroke="#222" stroke-width="1.35" stroke-linecap="round" stroke-linejoin="round"/></g><g transform="translate(220.20 306.60)"><circle r="5.7" fill="#fff" stroke="#111" stroke-width="1.15"/><circle r="3.85" fill="#0a0a0a"/></g><g transform="translate(321.60 306.60)"><circle r="5.7" fill="#fff" stroke="#111" stroke-width="1.15"/></g><g transform="translate(534.40 350.60)"><path d="M-0.7 -4.85H-3.8Q-4.85 -4.85 -4.85 -3.8V3.8Q-4.85 4.85 -3.8 4.85H3.8Q4.85 4.85 4.85 3.8V0.4" fill="none" stroke="#3a3a3a" stroke-width="1.3"/><path d="M-2.2 2.1L4.2 -4.2" fill="none" stroke="#333" stroke-width="1.15" stroke-linecap="round"/><path d="M2.1 -5.5H5.5V-2.1L4.4 -3.0V-4.4H3.0Z" fill="#333"/></g><g transform="translate(551.20 350.60)"><circle cx="-3.5" cy="0" r="1.05" fill="#333"/><circle cx="0" cy="0" r="1.05" fill="#333"/><circle cx="3.5" cy="0" r="1.05" fill="#333"/></g><g transform="translate(942.40 350.40)"><path d="M-0.7 -4.85H-3.8Q-4.85 -4.85 -4.85 -3.8V3.8Q-4.85 4.85 -3.8 4.85H3.8Q4.85 4.85 4.85 3.8V0.4" fill="none" stroke="#3a3a3a" stroke-width="1.3"/><path d="M-2.2 2.1L4.2 -4.2" fill="none" stroke="#333" stroke-width="1.15" stroke-linecap="round"/><path d="M2.1 -5.5H5.5V-2.1L4.4 -3.0V-4.4H3.0Z" fill="#333"/></g><g transform="translate(959.60 350.60)"><circle cx="-3.5" cy="0" r="1.05" fill="#333"/><circle cx="0" cy="0" r="1.05" fill="#333"/><circle cx="3.5" cy="0" r="1.05" fill="#333"/></g></svg>
</div>
</body></html>
